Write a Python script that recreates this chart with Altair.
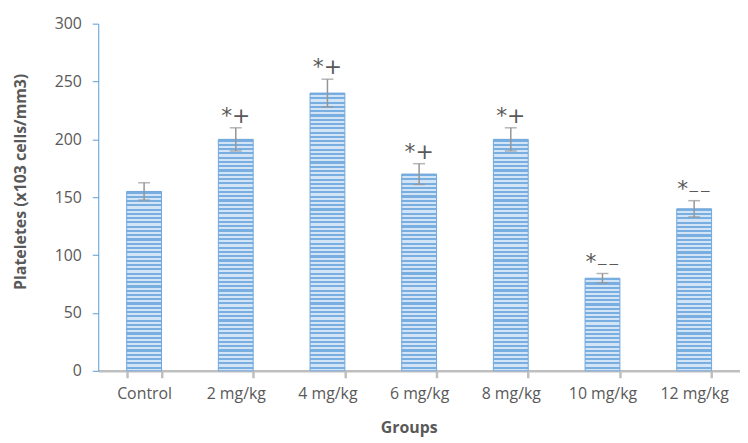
import altair as alt
import pandas as pd

groups = ["Control", "2 mg/kg", "4 mg/kg", "6 mg/kg", "8 mg/kg", "10 mg/kg", "12 mg/kg"]
means = [155, 200, 240, 170, 200, 80, 140]
errors = [7.5, 10, 12, 9, 10, 4, 7]
marks = ["", "*+", "*+", "*+", "*+", "*\u208b\u208b", "*\u208b\u208b"]

df = pd.DataFrame({
    "group": groups,
    "mean": means,
    "lo": [m - e for m, e in zip(means, errors)],
    "hi": [m + e for m, e in zip(means, errors)],
    "mark": marks,
})

W, H = 647, 350
YMAX = 300
TXT = "#595959"
FONT = "Open Sans"

xscale = alt.Scale(domain=groups, paddingInner=0.62, paddingOuter=0.31)
yscale = alt.Scale(domain=[0, YMAX], nice=False)

xaxis = alt.Axis(
    title="Groups", titleFont=FONT, titleFontSize=16, titleFontWeight="bold",
    titleColor=TXT, titleX=313, titleY=49,
    labelFont=FONT, labelFontSize=16, labelColor=TXT, labelAngle=0, labelPadding=8,
    domainColor="#BFBFBF", domainWidth=2.5, tickColor="#BFBFBF", tickWidth=2.5,
    tickSize=7, tickBand="extent", grid=False,
)
yaxis = alt.Axis(
    title="Plateletes (x103 cells/mm3)", titleFont=FONT, titleFontSize=16,
    titleFontWeight="bold", titleColor=TXT, titleX=-70, titleY=159,
    labelFont=FONT, labelFontSize=16, labelColor=TXT, labelPadding=11,
    values=[0, 50, 100, 150, 200, 250, 300],
    domainColor="#5B9BD5", domainWidth=1, tickColor="#5B9BD5", tickWidth=1,
    tickSize=6, grid=False,
)

base = alt.Chart(df)


def stripes(value):
    h = value * H / YMAX
    period = 4.3
    n = max(1, round(h / period))
    dark = "#79AEE0"
    light = "#D2E4F5"
    stops = []
    for i in range(n):
        a = i / n
        b = (i + 0.5) / n
        c = (i + 1) / n
        stops += [
            alt.GradientStop(offset=a, color=dark),
            alt.GradientStop(offset=b, color=dark),
            alt.GradientStop(offset=b, color=light),
            alt.GradientStop(offset=c, color=light),
        ]
    return alt.LinearGradient(gradient="linear", stops=stops, x1=0, x2=0, y1=0, y2=1)


bar_layers = []
for g, m in zip(groups, means):
    layer = base.transform_filter(alt.datum.group == g).mark_bar(
        fill=stripes(m), stroke="#6FA6DD", strokeWidth=1
    ).encode(
        x=alt.X("group:N", scale=xscale, axis=xaxis, sort=groups),
        y=alt.Y("mean:Q", scale=yscale, axis=yaxis),
    )
    bar_layers.append(layer)

err = base.mark_rule(color="#959595", strokeWidth=1.5).encode(
    x=alt.X("group:N", scale=xscale, sort=groups),
    y=alt.Y("lo:Q", scale=yscale),
    y2="hi:Q",
)
cap_lo = base.mark_tick(color="#959595", thickness=1.5, size=12).encode(
    x=alt.X("group:N", scale=xscale, sort=groups),
    y=alt.Y("lo:Q", scale=yscale),
)
cap_hi = base.mark_tick(color="#959595", thickness=1.5, size=12).encode(
    x=alt.X("group:N", scale=xscale, sort=groups),
    y=alt.Y("hi:Q", scale=yscale),
)
labels = base.mark_text(
    font="DejaVu Sans", fontSize=22, color=TXT, baseline="alphabetic", dy=-5
).encode(
    x=alt.X("group:N", scale=xscale, sort=groups),
    y=alt.Y("hi:Q", scale=yscale),
    text="mark:N",
)

chart = alt.layer(*bar_layers, err, cap_lo, cap_hi, labels).properties(
    width=W, height=H,
    autosize=alt.AutoSizeParams(type="none"),
    padding={"left": 91, "top": 14, "right": 0, "bottom": 70},
    background="white",
).configure_view(stroke=None)

chart.save("out.html", embed_options={"renderer": "svg", "actions": False})
